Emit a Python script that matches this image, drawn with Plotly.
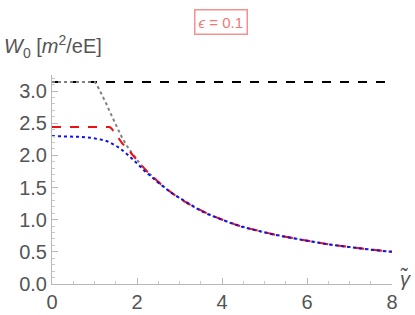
import plotly.graph_objects as go
import math

PI = math.pi

# Asymptotic (gray dotted) curve
gray_x = [0.0, 1.01, 1.1, 1.2, 1.28, 1.36, 1.42, 1.48, 1.54, 1.6, 1.66, 1.72, 1.8, 1.9, 2.0, 2.12, 2.25, 2.35, 2.46, 2.58, 2.7, 2.85, 3.0, 3.2, 3.48, 3.7, 3.87, 4.05, 4.27, 4.45, 4.65, 4.85, 5.05, 5.25, 5.45, 5.65, 5.84, 6.05, 6.23, 6.42, 6.62, 6.8, 7.0, 7.2, 7.4, 7.7, 8.0]
gray_y = [PI, PI, 3.04, 2.92, 2.80, 2.68, 2.59, 2.50, 2.42, 2.34, 2.26, 2.19, 2.11, 2.02, 1.93, 1.83, 1.74, 1.68, 1.61, 1.54, 1.475, 1.40, 1.33, 1.25, 1.15, 1.08, 1.035, 0.985, 0.935, 0.895, 0.86, 0.825, 0.795, 0.765, 0.74, 0.715, 0.69, 0.665, 0.645, 0.625, 0.607, 0.59, 0.573, 0.557, 0.542, 0.52, 0.50]

# Red dashed curve
red_x = [0.0, 1.36, 1.40, 1.45, 1.5, 1.55, 1.6, 1.66, 1.72, 1.8, 1.9, 2.0, 2.12, 2.25, 2.35, 2.46, 2.58, 2.7, 2.85, 3.0, 3.2, 3.48, 3.7, 3.87, 4.05, 4.27, 4.45, 4.65, 4.85, 5.05, 5.25, 5.45, 5.65, 5.84, 6.05, 6.23, 6.42, 6.62, 6.8, 7.0, 7.2, 7.4, 7.7, 8.0]
red_y = [2.44, 2.44, 2.42, 2.37, 2.32, 2.27, 2.23, 2.18, 2.14, 2.08, 2.00, 1.92, 1.83, 1.74, 1.68, 1.61, 1.54, 1.475, 1.40, 1.33, 1.25, 1.15, 1.08, 1.035, 0.985, 0.935, 0.895, 0.86, 0.825, 0.795, 0.765, 0.74, 0.715, 0.69, 0.665, 0.645, 0.625, 0.607, 0.59, 0.573, 0.557, 0.542, 0.52, 0.50]

# Blue dotted curve
blue_x = [0.0, 0.3, 0.5, 0.7, 0.9, 1.09, 1.2, 1.3, 1.4, 1.48, 1.6, 1.7, 1.8, 1.9, 2.0, 2.1, 2.19, 2.3, 2.4, 2.5, 2.65, 2.8, 2.95, 3.1, 3.3, 3.48, 3.7, 3.87, 4.05, 4.27, 4.45, 4.65, 4.85, 5.05, 5.25, 5.45, 5.65, 5.84, 6.05, 6.23, 6.42, 6.62, 6.8, 7.0, 7.2, 7.4, 7.7, 8.0]
blue_y = [2.30, 2.298, 2.295, 2.288, 2.275, 2.26, 2.24, 2.22, 2.19, 2.16, 2.11, 2.06, 2.00, 1.94, 1.87, 1.81, 1.75, 1.69, 1.63, 1.575, 1.50, 1.42, 1.36, 1.30, 1.22, 1.145, 1.077, 1.03, 0.982, 0.932, 0.892, 0.857, 0.823, 0.793, 0.763, 0.738, 0.713, 0.688, 0.664, 0.644, 0.624, 0.606, 0.589, 0.572, 0.556, 0.541, 0.52, 0.50]

# Black dashed constant line
black_x = [0.0, 8.0]
black_y = [PI, PI]

fig = go.Figure()
fig.add_trace(go.Scatter(x=black_x, y=black_y, mode="lines",
                         line=dict(color="black", width=2, dash="dash"), showlegend=False))
fig.add_trace(go.Scatter(x=gray_x, y=gray_y, mode="lines",
                         line=dict(color="#808080", width=2, dash="dot"), showlegend=False))
fig.add_trace(go.Scatter(x=red_x, y=red_y, mode="lines",
                         line=dict(color="#ee1111", width=2, dash="dash"), showlegend=False))
fig.add_trace(go.Scatter(x=blue_x, y=blue_y, mode="lines",
                         line=dict(color="#1111ee", width=2, dash="dot"), showlegend=False))

FONT = "Liberation Sans, Arial, sans-serif"
tickfont = dict(family=FONT, size=20, color="#555555")

fig.update_layout(
    width=415, height=315,
    margin=dict(l=52, r=23, t=75, b=31),
    paper_bgcolor="white", plot_bgcolor="white",
    xaxis=dict(range=[0, 8], tickvals=[0, 2, 4, 6, 8], ticktext=["0", "2", "4", "6", "8"],
               automargin=False,
               showgrid=False, zeroline=False, showline=True, linecolor="#b8b8b8", linewidth=1,
               ticks="inside", ticklen=6, tickcolor="#b8b8b8", tickfont=tickfont,
               minor=dict(ticks="inside", dtick=0.5, ticklen=3, tickcolor="#c8c8c8", showgrid=False)),
    yaxis=dict(range=[0, 3.25], tickvals=[0, 0.5, 1.0, 1.5, 2.0, 2.5, 3.0],
               ticktext=["0.0", "0.5", "1.0", "1.5", "2.0", "2.5", "3.0"],
               automargin=False,
               showgrid=False, zeroline=False, showline=True, linecolor="#b8b8b8", linewidth=1,
               ticks="inside", ticklen=6, tickcolor="#b8b8b8", tickfont=tickfont,
               minor=dict(ticks="inside", dtick=0.1, ticklen=3, tickcolor="#c8c8c8", showgrid=False)),
    annotations=[
        dict(text="<i>W</i><sub>0</sub> [<i>m</i><sup>2</sup>/eE]", xref="paper", yref="paper",
             x=-50/340, y=1 + 28/209, xanchor="left", yanchor="middle", showarrow=False,
             font=dict(family=FONT, size=20, color="#555555")),
        dict(text="<i>γ̃</i>", xref="paper", yref="paper",
             x=1 + 6/340, y=6/209, xanchor="left", yanchor="middle", showarrow=False,
             font=dict(family=FONT, size=20, color="#555555")),
        dict(text="<i>ϵ</i> = 0.1", xref="paper", yref="paper",
             x=(221-52)/340, y=1 + (75-22.5)/209, xanchor="center", yanchor="middle", showarrow=False,
             font=dict(family=FONT, size=15, color="#f07878"),
             bordercolor="#f49090", borderwidth=1.5, borderpad=3, bgcolor="white"),
    ],
)

fig.write_html("out.html", config={"displayModeBar": False},
               post_script="document.body.style.margin='0';document.body.style.overflow='hidden';")
